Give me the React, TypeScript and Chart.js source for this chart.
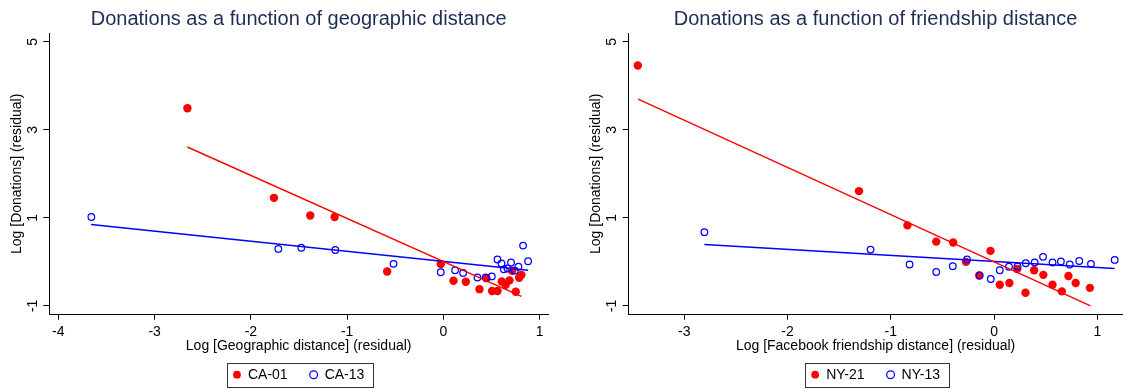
import React, { useEffect, useRef } from 'react';
import { Chart, registerables } from 'chart.js';

Chart.register(...registerables);

const FONT = '"Liberation Sans", Arial, Helvetica, sans-serif';
const TITLE_COLOR = '#1e2d55';
const RED = '#ff0000';
const BLUE = '#0000ff';

// ---------- shared ----------
const yLabel = 'Log [Donations] (residual)';
const yTicks = [-1, 1, 3, 5];
const yRange = [-1.2, 5.2];

// ---------- left panel : geographic distance ----------
const geoTitle = 'Donations as a function of geographic distance';
const geoXLabel = 'Log [Geographic distance] (residual)';
const geoXTicks = [-4, -3, -2, -1, 0, 1];
const geoXRange = [-4.094, 1.087];
const ca01Label = 'CA-01';
const ca13Label = 'CA-13';
const ca01X = [-2.659, -1.76, -1.383, -1.13, -0.584, -0.027, 0.105, 0.233, 0.375, 0.448, 0.506, 0.562, 0.607, 0.648, 0.687, 0.714, 0.752, 0.787, 0.811];
const ca01Y = [3.49, 1.455, 1.055, 1.02, -0.22, -0.05, -0.43, -0.45, -0.62, -0.37, -0.66, -0.66, -0.445, -0.52, -0.42, -0.2, -0.68, -0.36, -0.295];
const ca13X = [-3.657, -1.715, -1.476, -1.123, -0.518, -0.027, 0.122, 0.205, 0.354, 0.44, 0.503, 0.562, 0.604, 0.628, 0.666, 0.703, 0.742, 0.78, 0.828, 0.88];
const ca13Y = [1.02, 0.295, 0.32, 0.27, -0.045, -0.235, -0.19, -0.25, -0.355, -0.355, -0.33, 0.055, -0.035, -0.17, -0.15, -0.015, -0.2, -0.11, 0.37, 0.015];
const ca01FitX = [-2.66, 0.81];
const ca01FitY = [2.61, -0.785];
const ca13FitX = [-3.66, 0.88];
const ca13FitY = [0.85, -0.19];

// ---------- right panel : friendship distance ----------
const fbTitle = 'Donations as a function of friendship distance';
const fbXLabel = 'Log [Facebook friendship distance] (residual)';
const fbXTicks = [-3, -2, -1, 0, 1];
const fbXRange = [-3.538, 1.243];
const ny21Label = 'NY-21';
const ny13Label = 'NY-13';
const ny21X = [-3.45, -1.308, -0.839, -0.56, -0.396, -0.272, -0.035, -0.144, 0.055, 0.148, 0.224, 0.304, 0.388, 0.477, 0.566, 0.656, 0.72, 0.79, 0.928];
const ny21Y = [4.46, 1.607, 0.83, 0.46, 0.44, 0.0, 0.25, -0.31, -0.52, -0.48, -0.16, -0.7, -0.19, -0.295, -0.52, -0.67, -0.32, -0.48, -0.59];
const ny13X = [-2.805, -1.196, -0.818, -0.56, -0.4, -0.262, -0.14, -0.032, 0.055, 0.144, 0.227, 0.307, 0.393, 0.474, 0.566, 0.647, 0.733, 0.825, 0.938, 1.168];
const ny13Y = [0.675, 0.28, -0.06, -0.23, -0.1, 0.055, -0.31, -0.39, -0.19, -0.11, -0.105, -0.03, -0.015, 0.115, -0.015, 0.01, -0.06, 0.02, -0.045, 0.045];
const ny21FitX = [-3.447, 0.933];
const ny21FitY = [3.7, -1.0];
const ny13FitX = [-2.805, 1.166];
const ny13FitY = [0.395, -0.15];

const zip = (xs: number[], ys: number[]) => xs.map((x, i) => ({ x, y: ys[i] }));

const legendBoxPlugin = {
  id: 'legendBoxBorder',
  afterDraw(chart: any) {
    const lg = chart.legend;
    const hb = lg && lg.legendHitBoxes;
    if (!hb || !hb.length) return;
    const l = Math.min(...hb.map((h: any) => h.left)) - 6;
    const r = Math.max(...hb.map((h: any) => h.left + h.width)) + 9;
    const t = Math.min(...hb.map((h: any) => h.top)) - 5;
    const b = Math.max(...hb.map((h: any) => h.top + h.height)) + 5;
    const ctx = chart.ctx;
    ctx.save();
    ctx.strokeStyle = '#333333';
    ctx.lineWidth = 1;
    ctx.strokeRect(Math.round(l) + 0.5, Math.round(t) + 0.5, Math.round(r - l), Math.round(b - t));
    ctx.restore();
  },
};

type PanelProps = {
  width: number;
  left: number;
  title: string;
  xLabel: string;
  xTicks: number[];
  xRange: number[];
  yAxisWidth: number;
  yTitlePad: number;
  rightPad: number;
  redLabel: string;
  blueLabel: string;
  redX: number[];
  redY: number[];
  blueX: number[];
  blueY: number[];
  redFitX: number[];
  redFitY: number[];
  blueFitX: number[];
  blueFitY: number[];
};

function Panel(p: PanelProps) {
  const ref = useRef<HTMLCanvasElement | null>(null);
  useEffect(() => {
    if (!ref.current) return;
    const axisFont = { family: FONT, size: 14 };
    const chart = new Chart(ref.current, {
      type: 'scatter',
      data: {
        datasets: [
          {
            label: p.redLabel,
            data: zip(p.redX, p.redY),
            backgroundColor: RED,
            borderColor: RED,
            borderWidth: 0,
            pointRadius: 4.2,
            pointHoverRadius: 4.2,
            pointStyle: 'circle',
            order: 2,
          },
          {
            label: p.blueLabel,
            data: zip(p.blueX, p.blueY),
            backgroundColor: 'rgba(0,0,0,0)',
            borderColor: BLUE,
            borderWidth: 1.25,
            pointRadius: 3.3,
            pointHoverRadius: 3.3,
            pointStyle: 'circle',
            order: 1,
          },
          {
            type: 'line',
            label: 'fit-red',
            data: zip(p.redFitX, p.redFitY),
            borderColor: RED,
            borderWidth: 1.4,
            pointRadius: 0,
            fill: false,
            order: 0,
          },
          {
            type: 'line',
            label: 'fit-blue',
            data: zip(p.blueFitX, p.blueFitY),
            borderColor: BLUE,
            borderWidth: 1.4,
            pointRadius: 0,
            fill: false,
            order: 0,
          },
        ] as any,
      },
      options: {
        animation: false,
        responsive: false,
        events: [],
        layout: { padding: { left: 0, right: p.rightPad, top: 0, bottom: 0 } },
        scales: {
          x: {
            type: 'linear',
            position: 'bottom',
            min: p.xRange[0],
            max: p.xRange[1],
            afterBuildTicks: (s: any) => {
              s.ticks = p.xTicks.map((v) => ({ value: v }));
            },
            afterFit: (s: any) => {
              s.height = 31;
            },
            grid: { display: true, drawOnChartArea: false, drawTicks: true, tickLength: 5, color: '#000', lineWidth: 1 },
            border: { display: true, color: '#000', width: 1 },
            ticks: { font: axisFont, color: '#000', padding: 3.6, maxRotation: 0, autoSkip: false },
            title: { display: true, text: p.xLabel, font: axisFont, color: '#000', padding: { top: 0, bottom: -8.7 } },
          },
          y: {
            type: 'linear',
            position: 'left',
            min: yRange[0],
            max: yRange[1],
            afterBuildTicks: (s: any) => {
              s.ticks = yTicks.map((v) => ({ value: v }));
            },
            afterFit: (s: any) => {
              s.width = p.yAxisWidth;
            },
            grid: { display: true, drawOnChartArea: false, drawTicks: true, tickLength: 6, color: '#000', lineWidth: 1 },
            border: { display: true, color: '#000', width: 1 },
            ticks: { font: axisFont, color: '#000', padding: 4, minRotation: 90, maxRotation: 90, crossAlign: 'center', autoSkip: false },
            title: { display: true, text: yLabel, font: axisFont, color: '#000', padding: { top: p.yTitlePad, bottom: 0 } },
          },
        } as any,
        plugins: {
          title: {
            display: true,
            text: p.title,
            fullSize: false,
            color: TITLE_COLOR,
            font: { family: FONT, size: 20, weight: 'normal' },
            padding: { top: 7.5, bottom: 1.5 },
          },
          legend: {
            display: true,
            position: 'bottom',
            fullSize: false,
            maxHeight: 43.3,
            labels: {
              usePointStyle: true,
              boxWidth: 8,
              boxHeight: 5.5,
              padding: 22,
              color: '#000',
              font: { family: FONT, size: 14 },
              filter: (item: any) => item.datasetIndex < 2,
              sort: (a: any, b: any) => a.datasetIndex - b.datasetIndex,
            },
          },
          tooltip: { enabled: false },
        } as any,
      },
      plugins: [legendBoxPlugin],
    });
    return () => chart.destroy();
  }, []);
  return (
    <div style={{ position: 'absolute', left: p.left, top: 0, width: p.width, height: 389 }}>
      <canvas ref={ref} width={p.width} height={389} style={{ width: p.width, height: 389, display: 'block' }} />
    </div>
  );
}

export default function App() {
  return (
    <div style={{ position: 'absolute', left: 0, top: 0, width: 1127, height: 389, background: '#fff', overflow: 'hidden' }}>
      <Panel
        width={560}
        left={0}
        title={geoTitle}
        xLabel={geoXLabel}
        xTicks={geoXTicks}
        xRange={geoXRange}
        yAxisWidth={49.3}
        yTitlePad={8.3}
        rightPad={12}
        redLabel={ca01Label}
        blueLabel={ca13Label}
        redX={ca01X}
        redY={ca01Y}
        blueX={ca13X}
        blueY={ca13Y}
        redFitX={ca01FitX}
        redFitY={ca01FitY}
        blueFitX={ca13FitX}
        blueFitY={ca13FitY}
      />
      <Panel
        width={567}
        left={560}
        title={fbTitle}
        xLabel={fbXLabel}
        xTicks={fbXTicks}
        xRange={fbXRange}
        yAxisWidth={68.7}
        yTitlePad={27.8}
        rightPad={0}
        redLabel={ny21Label}
        blueLabel={ny13Label}
        redX={ny21X}
        redY={ny21Y}
        blueX={ny13X}
        blueY={ny13Y}
        redFitX={ny21FitX}
        redFitY={ny21FitY}
        blueFitX={ny13FitX}
        blueFitY={ny13FitY}
      />
    </div>
  );
}
